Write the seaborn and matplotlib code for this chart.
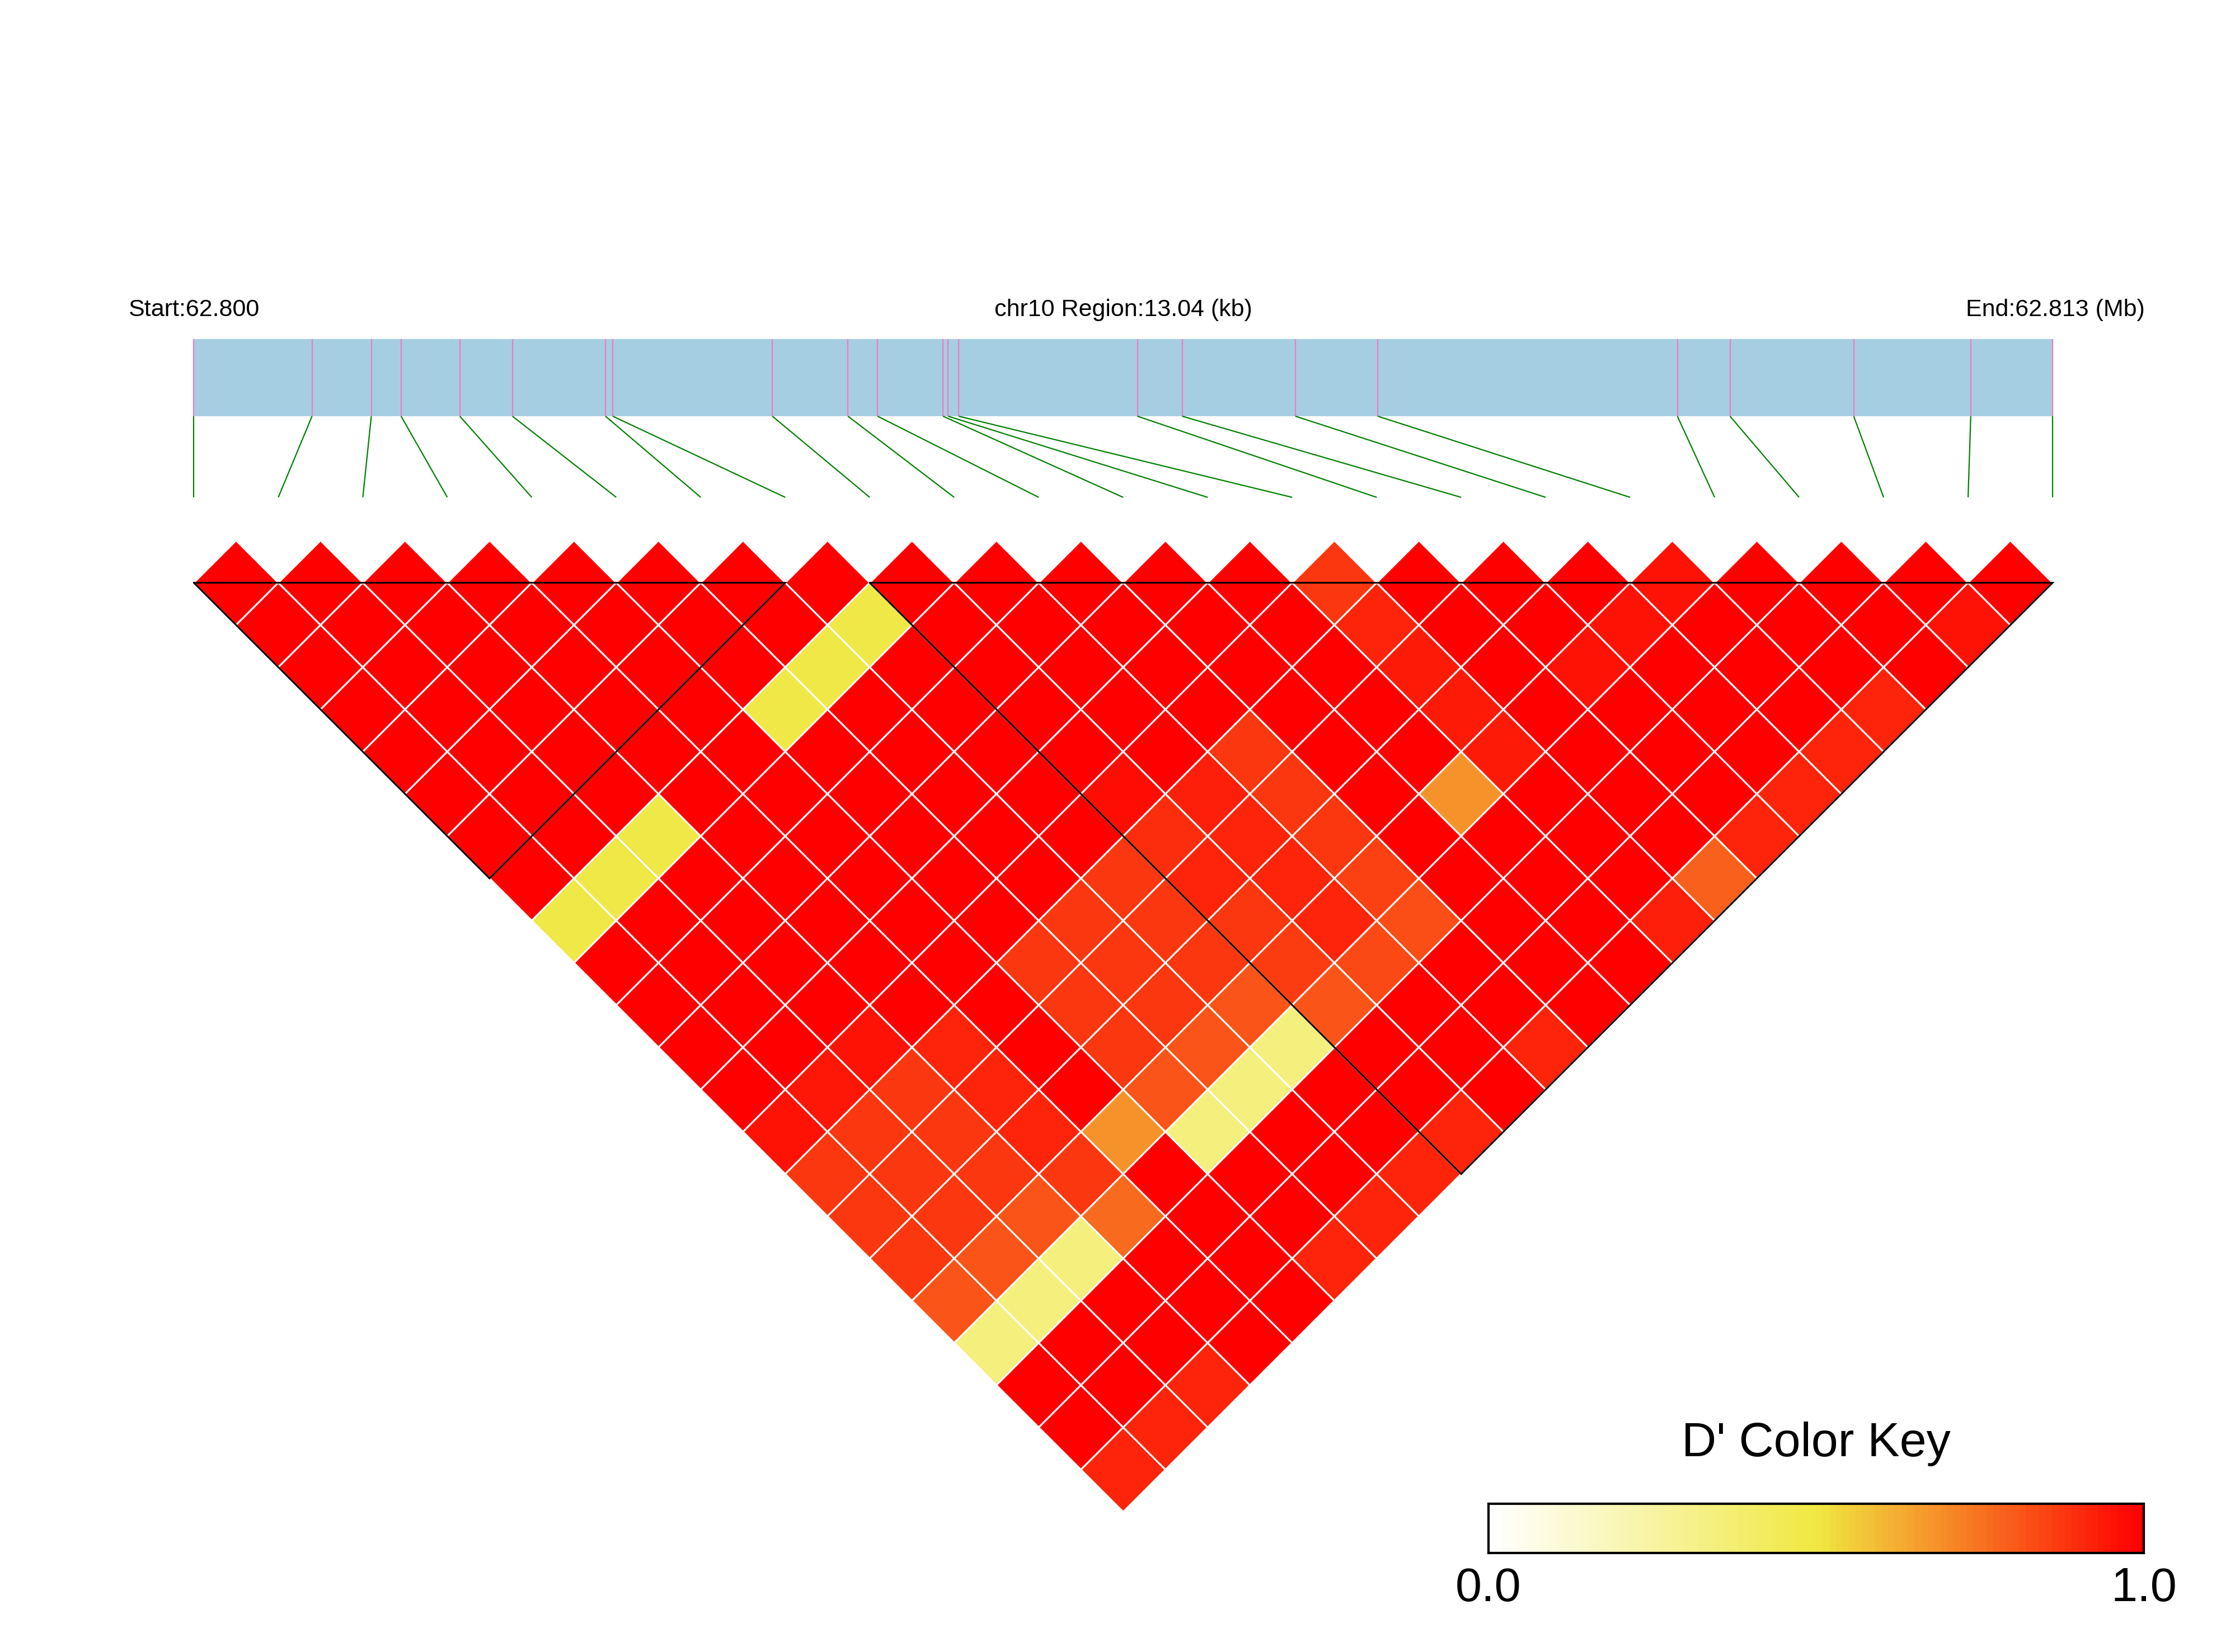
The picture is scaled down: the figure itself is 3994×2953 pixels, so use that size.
import numpy as np
import matplotlib
matplotlib.use("Agg")
import matplotlib.pyplot as plt
from matplotlib.collections import PolyCollection, LineCollection
from matplotlib.patches import Rectangle
import seaborn as sns

# ---------------- data ----------------
chrom = "chr10"
snp_pos = [62800120, 62800949, 62801365, 62801574, 62801986, 62802355, 62803008,
           62803059, 62804179, 62804709, 62804917, 62805376, 62805412, 62805486,
           62806740, 62807054, 62807848, 62808426, 62810528, 62810897, 62811765,
           62812586, 62813160]

# D' of SNP i with SNPs i+1 .. last
dp_00 = [1, 1, 1, 1, 1, 1, 1, 1, .49, 1, 1, 1, 1, .96, .88, .88, .88, .82, .34, 1, 1, .92]
dp_01 = [1, 1, 1, 1, 1, 1, 1, .49, 1, 1, 1, 1, .95, .88, .88, .88, .82, .34, 1, 1, .92]
dp_02 = [1, 1, 1, 1, 1, 1, .49, 1, 1, 1, 1, .96, .88, .88, .88, .82, .34, 1, 1, .92]
dp_03 = [1, 1, 1, 1, 1, 1, 1, 1, 1, 1, 1, .92, .92, .92, .88, .77, 1, 1, 1]
dp_04 = [1, 1, 1, 1, 1, 1, 1, 1, 1, 1, 1, 1, 1, .68, 1, 1, 1, 1]
dp_05 = [1, 1, 1, .49, 1, 1, 1, 1, 1, .88, .88, .88, .82, .34, 1, 1, .92]
dp_06 = [1, 1, .49, 1, 1, 1, 1, 1, .88, .88, .88, .82, .34, 1, 1, .92]
dp_07 = [1, .49, 1, 1, 1, 1, 1, .88, .88, .88, .82, .34, 1, 1, .92]
dp_08 = [1, 1, 1, 1, 1, .97, .90, .92, .88, .87, .82, 1, 1, .92]
dp_09 = [1, 1, 1, 1, 1, .93, .92, .92, .92, .84, 1, 1, 1]
dp_10 = [1, 1, 1, 1, .88, .88, .88, .86, .83, 1, 1, .92]
dp_11 = [1, 1, 1, 1, 1, 1, 1, 1, 1, 1, 1]
dp_12 = [1, 1, 1, 1, 1, .68, 1, 1, 1, 1]
dp_13 = [.88, .92, .94, .94, .94, 1, 1, 1, .93]
dp_14 = [1, 1, 1, 1, 1, 1, 1, .79]
dp_15 = [1, 1, .96, 1, 1, 1, .92]
dp_16 = [1, .96, 1, 1, 1, .92]
dp_17 = [.96, 1, 1, 1, .92]
dp_18 = [1, 1, 1, .92]
dp_19 = [1, 1, 1]
dp_20 = [1, .96]
dp_21 = [1]
dprime_rows = [dp_00, dp_01, dp_02, dp_03, dp_04, dp_05, dp_06, dp_07, dp_08, dp_09,
               dp_10, dp_11, dp_12, dp_13, dp_14, dp_15, dp_16, dp_17, dp_18, dp_19,
               dp_20, dp_21]

blocks = [(0, 7), (8, 22)]
key_title = "D' Color Key"
key_labels = ["0.0", "1.0"]

# ---------------- style ----------------
sns.set_style("white")
plt.rcParams['font.family'] = ['Liberation Sans', 'DejaVu Sans']
plt.rcParams['text.color'] = 'black'

W, H = 3994, 2953
fig = plt.figure(figsize=(W / 100, H / 100), dpi=100)
ax = fig.add_axes([0, 0, 1, 1])
ax.set_xlim(0, W)
ax.set_ylim(H, 0)
ax.axis('off')

n = len(snp_pos)
x_left, x_right = 346.4, 3668.0
half = (x_right - x_left) / (2 * (n - 1))
base_y = 1041.7
bar_top, bar_bot = 606, 744
link_bot = 889

cmap = sns.blend_palette(["#FFFFFF", "#F0E842", "#FF0000"], n_colors=256, as_cmap=True)

# ---------------- LD heatmap (rotated) ----------------
polys, vals = [], []
for i, row in enumerate(dprime_rows):
    for k, v in enumerate(row):
        j = i + 1 + k
        cx = x_left + (i + j) * half
        cy = base_y + (j - i - 1) * half
        polys.append([(cx - half, cy), (cx, cy - half), (cx + half, cy), (cx, cy + half)])
        vals.append(v)
vals = np.array(vals)
pc = PolyCollection(polys, facecolors=cmap(vals), edgecolors='white', linewidths=2.2)
ax.add_collection(pc)

# block outlines
for a, b in blocks:
    xa = x_left + 2 * a * half
    xb = x_left + 2 * b * half
    tri_x = [xa, xb, (xa + xb) / 2, xa]
    tri_y = [base_y, base_y, base_y + (xb - xa) / 2, base_y]
    ax.plot(tri_x, tri_y, color='black', lw=2.2, solid_joinstyle='miter', zorder=5)

# ---------------- gene bar & links ----------------
pmin, pmax = snp_pos[0], snp_pos[-1]
gx = [x_left + (p - pmin) / (pmax - pmin) * (x_right - x_left) for p in snp_pos]
ax.add_patch(Rectangle((x_left, bar_top), x_right - x_left, bar_bot - bar_top,
                       facecolor='#A6CEE3', edgecolor='none'))
ax.vlines(gx, bar_top, bar_bot, color='#F07AC0', lw=1.6)
segs = [[(gx[k], bar_bot), (x_left + 2 * k * half, link_bot)] for k in range(n)]
ax.add_collection(LineCollection(segs, colors='#008000', linewidths=1.6))

region_kb = (pmax - pmin) / 1000.0
ax.text(229, 565, f"Start:{pmin / 1e6:.3f}", ha='left', va='baseline', fontsize=31, color='black')
ax.text((x_left + x_right) / 2, 565, f"{chrom} Region:{region_kb:.2f} (kb)",
        ha='center', va='baseline', fontsize=31, color='black')
ax.text(3833, 565, f"End:{pmax / 1e6:.3f} (Mb)", ha='right', va='baseline', fontsize=31, color='black')

# ---------------- color key ----------------
kx0, kx1, ky0, ky1 = 2660, 3831, 2688, 2776
kax = fig.add_axes([kx0 / W, 1 - ky1 / H, (kx1 - kx0) / W, (ky1 - ky0) / H])
key_grad = np.linspace(0, 1, 100)[None, :]
sns.heatmap(key_grad, cmap=cmap, vmin=0, vmax=1, cbar=False,
            xticklabels=False, yticklabels=False, ax=kax)
for sp in kax.spines.values():
    sp.set_visible(True)
    sp.set_color('black')
    sp.set_linewidth(3)

ax.text((kx0 + kx1) / 2, 2603, key_title, ha='center', va='baseline', fontsize=62, color='black')
ax.text(kx0, 2862, key_labels[0], ha='center', va='baseline', fontsize=61, color='black')
ax.text(kx1, 2862, key_labels[1], ha='center', va='baseline', fontsize=61, color='black')

fig.savefig("out.png", dpi=100, facecolor='white')
